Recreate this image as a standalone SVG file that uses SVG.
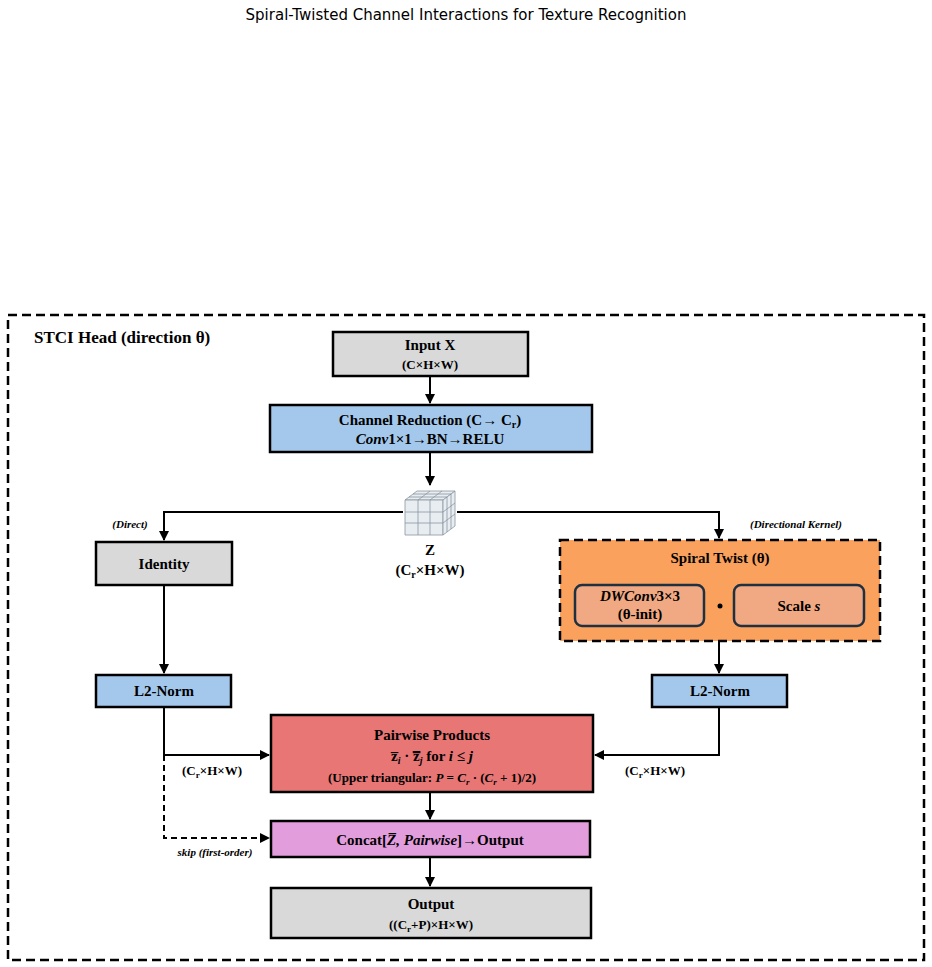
<svg xmlns="http://www.w3.org/2000/svg" width="932" height="967" viewBox="0 0 932 967">
<defs>
<marker id="ah" viewBox="0 0 10 10" refX="9" refY="5" markerWidth="5" markerHeight="5" orient="auto"><path d="M0,0L10,5L0,10z" fill="#000"/></marker>
<style>
.t{font-family:"Liberation Serif",serif;font-weight:bold;font-size:15px;fill:#000;text-anchor:middle}
.s{font-size:13px}
.i{font-style:italic}
.box{stroke:#000;stroke-width:2.5}
.ln{stroke:#000;stroke-width:2;fill:none}
.cube{fill:#e8edf2;stroke:#8a96a0;stroke-width:0.8}
</style>
</defs>
<rect width="932" height="967" fill="#fff"/>
<text x="466" y="20" style="font-family:'DejaVu Sans',sans-serif;font-size:15px" text-anchor="middle">Spiral-Twisted Channel Interactions for Texture Recognition</text>
<rect x="8" y="315" width="916" height="645" fill="none" stroke="#000" stroke-width="2.5" stroke-dasharray="9,5"/>
<text x="34" y="343" class="t" style="text-anchor:start;font-size:17px">STCI Head (direction θ)</text>

<g id="connectors">
<path class="ln" d="M430,376V403" marker-end="url(#ah)"/>
<path class="ln" d="M430,452V485" marker-end="url(#ah)"/>
<path class="ln" d="M403,512H164V540" marker-end="url(#ah)"/>
<path class="ln" d="M457,512H719V538" marker-end="url(#ah)"/>
<path class="ln" d="M164,585V673" marker-end="url(#ah)"/>
<path class="ln" d="M719,641V673" marker-end="url(#ah)"/>
<path class="ln" d="M164,707V755H269" marker-end="url(#ah)"/>
<path class="ln" d="M719,707V755H595" marker-end="url(#ah)"/>
<path class="ln" d="M164,755V838H269" stroke-dasharray="6,4" marker-end="url(#ah)"/>
<path class="ln" d="M430,792V819" marker-end="url(#ah)"/>
<path class="ln" d="M430,857V886" marker-end="url(#ah)"/>
</g>
<text x="130" y="528" class="t i" style="font-size:11px">(Direct)</text>
<text x="796" y="528" class="t i" style="font-size:11px">(Directional Kernel)</text>
<text x="212" y="775" class="t s">(C<tspan font-size="9" dy="3">r</tspan><tspan dy="-3">×H×W)</tspan></text>
<text x="655" y="775" class="t s">(C<tspan font-size="9" dy="3">r</tspan><tspan dy="-3">×H×W)</tspan></text>
<text x="215" y="856" class="t i" style="font-size:11px">skip (first-order)</text>

<g id="input"><rect x="333" y="332" width="195" height="44" fill="#d9d9d9" class="box"/>
<text x="430" y="350" class="t">Input X</text><text x="430" y="369" class="t s">(C×H×W)</text></g>

<g id="reduction"><rect x="270" y="405" width="322" height="47" fill="#a4c8ec" class="box"/>
<text x="430" y="425" class="t">Channel Reduction (C→ C<tspan font-size="10" dy="3">r</tspan><tspan dy="-3">)</tspan></text>
<text x="430" y="444" class="t"><tspan class="i">Conv</tspan>1×1→BN→RELU</text></g>

<g id="z">
<path class="cube" d="M405,500L417,491L455,491L443,500Z"/>
<path class="cube" d="M405,500H443V535H405Z"/>
<path class="cube" d="M443,500L455,491V526L443,535Z"/>
<path d="M418,500V535M430,500V535M405,512H443M405,523H443M447,497V532M451,494V529M443,512L455,503M443,523L455,514M409,497H447M413,494H451M418,500L430,491M430,500L442,491" stroke="#8a96a0" stroke-width="0.8" fill="none"/>
<text x="430" y="555" class="t">Z</text>
<text x="430" y="575" class="t">(C<tspan font-size="10" dy="3">r</tspan><tspan dy="-3">×H×W)</tspan></text></g>

<g id="identity"><rect x="96" y="542" width="136" height="43" fill="#d9d9d9" class="box"/>
<text x="164" y="569" class="t">Identity</text></g>

<g id="spiral"><rect x="560" y="540" width="320" height="101" fill="#fba15e" stroke="#000" stroke-width="2.5" stroke-dasharray="9,5"/>
<text x="720" y="563" class="t">Spiral Twist (θ)</text>
<rect x="575" y="585" width="129" height="41" rx="7" fill="#f0a982" stroke="#1f3140" stroke-width="2.5"/>
<text x="640" y="601" class="t"><tspan class="i">DWConv</tspan>3×3</text><text x="640" y="619" class="t">(θ-init)</text>
<circle cx="720" cy="606" r="2.5" fill="#000"/>
<rect x="734" y="585" width="130" height="41" rx="7" fill="#f0a982" stroke="#1f3140" stroke-width="2.5"/>
<text x="799" y="611" class="t">Scale <tspan class="i">s</tspan></text></g>

<g id="l2left"><rect x="96" y="675" width="135" height="32" fill="#a4c8ec" class="box"/><text x="164" y="696" class="t">L2-Norm</text></g>
<g id="l2right"><rect x="652" y="675" width="135" height="32" fill="#a4c8ec" class="box"/><text x="720" y="696" class="t">L2-Norm</text></g>

<g id="pairwise"><rect x="271" y="715" width="322" height="77" fill="#e87675" class="box"/>
<text x="432" y="740" class="t">Pairwise Products</text>
<text x="432" y="761" class="t">z̅<tspan class="i" font-size="10" dy="3">i</tspan><tspan dy="-3"> · z̿</tspan><tspan class="i" font-size="10" dy="3">j</tspan><tspan dy="-3"> for </tspan><tspan class="i">i</tspan> ≤ <tspan class="i">j</tspan></text>
<text x="432" y="782" class="t s">(Upper triangular: <tspan class="i">P</tspan> = <tspan class="i">C<tspan font-size="9" dy="3">r</tspan></tspan><tspan dy="-3"> · (</tspan><tspan class="i">C<tspan font-size="9" dy="3">r</tspan></tspan><tspan dy="-3"> + 1)/2)</tspan></text></g>

<g id="concat"><rect x="271" y="821" width="319" height="36" fill="#e29ddd" class="box"/>
<text x="430" y="845" class="t">Concat[<tspan class="i">Z̅, Pairwise</tspan>]→Output</text></g>

<g id="output"><rect x="271" y="888" width="320" height="50" fill="#d9d9d9" class="box"/>
<text x="431" y="909" class="t">Output</text>
<text x="431" y="929" class="t s">((C<tspan font-size="9" dy="3">r</tspan><tspan dy="-3">+P)×H×W)</tspan></text></g>
</svg>
